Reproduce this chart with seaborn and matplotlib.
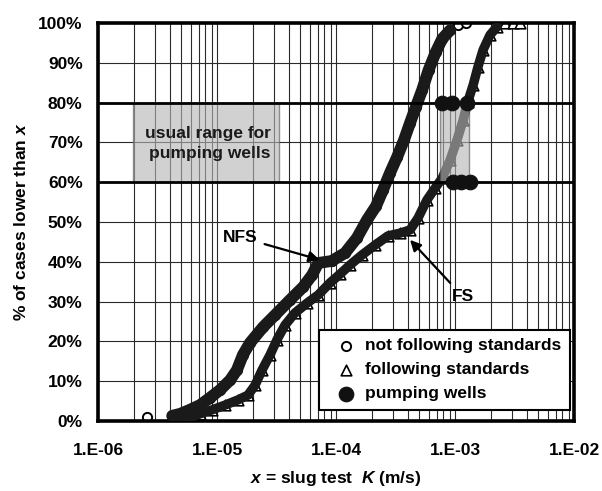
import matplotlib
matplotlib.use("Agg")
import matplotlib.pyplot as plt
import seaborn as sns
from matplotlib.patches import Rectangle
from matplotlib.ticker import FixedLocator, FixedFormatter, LogLocator, NullFormatter

# slug test K (m/s) vs cumulative %
nfs_k = [2.6e-6, 4.2e-6, 4.9e-6, 5.9e-6, 7.2e-6, 8.7e-6, 1.06e-5, 1.29e-5, 1.47e-5,
         1.65e-5, 1.89e-5, 2.44e-5, 3.07e-5, 4.1e-5, 5.3e-5, 6.3e-5, 7.1e-5, 9.2e-5,
         1.19e-4, 1.5e-4, 1.82e-4, 2.17e-4, 2.48e-4, 2.84e-4, 3.26e-4, 3.73e-4, 4.19e-4,
         4.7e-4, 5.3e-4, 6.0e-4, 6.9e-4, 7.8e-4, 9.1e-4, 1.06e-3, 1.23e-3]
nfs_pct = [1.0, 1.3, 1.8, 2.8, 4.0, 5.8, 7.8, 10.3, 12.8,
           16.6, 19.6, 23.6, 26.6, 30.4, 33.7, 36.7, 39.7, 40.2,
           42.2, 46.0, 50.5, 54.0, 58.0, 62.3, 66.3, 70.6, 74.9,
           79.0, 83.2, 88.2, 92.7, 96.0, 98.2, 99.5, 100.0]

fs_k = [5.1e-6, 5.9e-6, 7.2e-6, 9.1e-6, 1.17e-5, 1.5e-5, 1.82e-5, 2.09e-5, 2.39e-5,
        2.79e-5, 3.19e-5, 3.73e-5, 4.5e-5, 5.7e-5, 7.1e-5, 8.9e-5, 1.08e-4, 1.31e-4,
        1.65e-4, 2.13e-4, 2.73e-4, 3.45e-4, 4.19e-4, 4.89e-4, 5.8e-4, 6.8e-4, 7.8e-4,
        9.1e-4, 1.04e-3, 1.17e-3, 1.28e-3, 1.42e-3, 1.56e-3, 1.72e-3, 1.97e-3, 2.25e-3,
        2.63e-3, 3.07e-3, 3.52e-3]
fs_pct = [0.3, 0.8, 1.8, 2.8, 4.0, 5.3, 6.5, 9.0, 12.8,
          16.6, 20.4, 24.1, 27.1, 29.6, 31.7, 34.7, 36.9, 39.2,
          41.7, 44.2, 46.5, 47.2, 48.0, 51.0, 55.5, 58.5, 61.0,
          65.6, 70.6, 75.6, 80.2, 84.4, 89.0, 93.2, 97.0, 99.0,
          100.0, 100.0, 100.0]

pw_k = [7.8e-4, 9.5e-4, 1.27e-3, 9.6e-4, 1.12e-3, 1.33e-3]
pw_pct = [80, 80, 80, 60, 60, 60]

# shaded ranges (K limits) between 60 and 80 %
range_boxes = [(1.97e-6, 3.32e-5), (7.5e-4, 1.31e-3)]
range_pct = (60, 80)

x_ticks = [1e-6, 1e-5, 1e-4, 1e-3, 1e-2]
x_tick_labels = ["1.E-06", "1.E-05", "1.E-04", "1.E-03", "1.E-02"]
y_ticks = [0, 10, 20, 30, 40, 50, 60, 70, 80, 90, 100]
y_tick_labels = ["0%", "10%", "20%", "30%", "40%", "50%", "60%", "70%", "80%", "90%", "100%"]

sns.set_theme(style="white")
plt.rcParams["font.family"] = ["Liberation Sans", "DejaVu Sans"]
plt.rcParams.update({
    "font.weight": "bold",
    "axes.labelweight": "bold",
    "text.color": "black",
    "axes.labelcolor": "black",
    "xtick.color": "black",
    "ytick.color": "black",
    "mathtext.fontset": "custom",
    "mathtext.it": "Liberation Sans:italic:bold",
    "mathtext.rm": "Liberation Sans:bold",
    "mathtext.bf": "Liberation Sans:bold",
})

fig = plt.figure(figsize=(6.02, 4.91), dpi=100)
ax = fig.add_axes([0.1628, 0.1426, 0.7907, 0.8106])
ax.set_xscale("log")

band = "#1a1a1a"

# open markers underneath, thick band on top (dense overlapping symbols in the original)
sns.scatterplot(x=nfs_k, y=nfs_pct, marker="o", s=44, color="white", edgecolor="black",
                linewidth=1.4, label="not following standards", zorder=2, ax=ax)
sns.scatterplot(x=fs_k, y=fs_pct, marker="^", s=58, color="white", edgecolor="black",
                linewidth=1.2, label="following standards", zorder=2, ax=ax)
sns.lineplot(x=nfs_k[1:-2], y=nfs_pct[1:-2], sort=False, estimator=None, color=band,
             lw=8.5, solid_capstyle="round", solid_joinstyle="round", zorder=3, ax=ax)
sns.lineplot(x=fs_k[:-3], y=fs_pct[:-3], sort=False, estimator=None, color=band,
             lw=6.8, solid_capstyle="round", solid_joinstyle="round", zorder=3, ax=ax)

for x0, x1 in range_boxes:
    ax.add_patch(Rectangle((x0, range_pct[0]), x1 - x0, range_pct[1] - range_pct[0],
                           facecolor="#b5b5b5", alpha=0.62, edgecolor="#555555", lw=1.0, zorder=4))

sns.scatterplot(x=pw_k, y=pw_pct, marker="o", s=110, color="#111111", edgecolor="#111111",
                label="pumping wells", zorder=6, ax=ax)

ax.set_xlim(1e-6, 1e-2)
ax.set_ylim(0, 100)

# grid
ax.xaxis.set_major_locator(FixedLocator(x_ticks))
ax.xaxis.set_major_formatter(FixedFormatter(x_tick_labels))
ax.xaxis.set_minor_locator(LogLocator(base=10, subs=[2, 3, 4, 5, 6, 7, 8, 9]))
ax.xaxis.set_minor_formatter(NullFormatter())
ax.yaxis.set_major_locator(FixedLocator(y_ticks))
ax.yaxis.set_major_formatter(FixedFormatter(y_tick_labels))
ax.yaxis.set_minor_locator(FixedLocator(list(range(0, 101, 2))))
ax.grid(True, which="both", axis="x", color="#2a2a2a", lw=0.8, zorder=0)
ax.grid(True, which="major", axis="y", color="#2a2a2a", lw=0.8, zorder=0)
ax.set_axisbelow(True)
for lvl in range_pct:
    ax.axhline(lvl, color="black", lw=2.0, zorder=5)

ax.tick_params(which="major", direction="out", length=5, width=1.6, labelsize=12.5)
ax.tick_params(axis="x", which="major", pad=11)
ax.tick_params(axis="y", which="major", pad=6)
ax.tick_params(which="minor", direction="in", length=5, width=1.2)
for sp in ax.spines.values():
    sp.set_color("black")
    sp.set_linewidth(2.6)

ax.text(2.84e-5, 69.7, "usual range for\npumping wells", ha="right", va="center",
        multialignment="right", fontsize=12.5, linespacing=1.35, color="#1a1a1a", zorder=7)

ax.annotate("NFS", xy=(7.3e-5, 40.5), xytext=(1.56e-5, 46.2), ha="center", va="center",
            fontsize=12.5, zorder=8,
            arrowprops=dict(arrowstyle="-|>", color="black", lw=1.6, mutation_scale=16, shrinkA=3, shrinkB=0))
ax.annotate("FS", xy=(4.19e-4, 45.5), xytext=(1.17e-3, 31.2), ha="center", va="center",
            fontsize=12.5, zorder=8,
            arrowprops=dict(arrowstyle="-|>", color="black", lw=1.6, mutation_scale=16, shrinkA=3, shrinkB=0))

ax.set_xlabel("$x$ = slug test  $K$ (m/s)", fontsize=12.5, fontweight="bold")
ax.set_ylabel("% of cases lower than $x$", fontsize=12.5, fontweight="bold")
ax.xaxis.set_label_coords(0.5, -0.12)
ax.yaxis.set_label_coords(-0.145, 0.5)

leg = ax.legend(loc="lower right", bbox_to_anchor=(0.992, 0.028), fontsize=12.5, frameon=True,
                fancybox=False, framealpha=1, edgecolor="black", borderaxespad=0,
                handletextpad=0.05, handlelength=2.1, labelspacing=0.5, borderpad=0.5)
leg.get_frame().set_linewidth(1.5)
leg.set_zorder(10)

fig.savefig("out.png", dpi=100)
